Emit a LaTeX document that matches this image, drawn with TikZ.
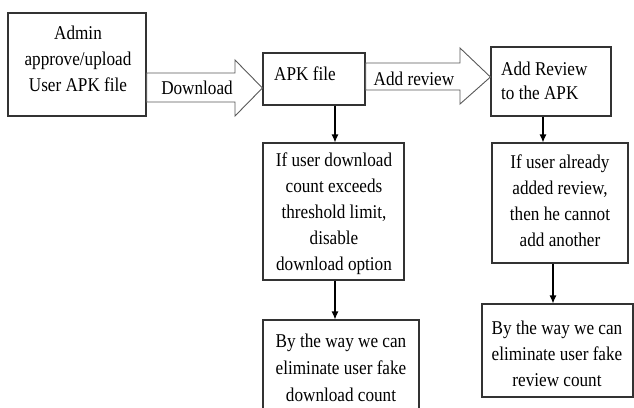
\documentclass[tikz,border=0pt]{standalone}
\usepackage{fontspec}
\setmainfont[FakeStretch=0.88]{Liberation Serif}
\usetikzlibrary{arrows.meta,calc}

\tikzset{
  stepbox/.style={draw=black!80, line width=1.1pt, fill=white, inner sep=0pt},
  label/.style={inner sep=0pt, font=\fontsize{19.5}{26}\selectfont, text=black},
  blockarrow/.style={draw=black!65, line width=0.9pt, fill=white, line join=miter},
  flow/.style={draw=black, line width=1.1pt, -{Latex[length=8pt,width=7pt]}}
}

\begin{document}
\begin{tikzpicture}[x=1pt, y=-1pt]
  \useasboundingbox (0,0) rectangle (634,407);
  \begin{scope}
    \clip (0,0) rectangle (634,407);

    % process boxes
    \node[stepbox, minimum width=138pt, minimum height=103pt] (admin)   at (77,64.5)   {};
    \node[stepbox, minimum width=102pt, minimum height=52pt]  (apk)     at (314,79)    {};
    \node[stepbox, minimum width=120pt, minimum height=69pt]  (addrev)  at (551,81.5)  {};
    \node[stepbox, minimum width=141pt, minimum height=137pt] (limit)   at (333.5,211.5) {};
    \node[stepbox, minimum width=136pt, minimum height=120pt] (already) at (560,203)   {};
    \node[stepbox, minimum width=156pt, minimum height=110pt] (fakedl)  at (341,375)   {};
    \node[stepbox, minimum width=151pt, minimum height=93pt]  (fakerev) at (557.5,350.5) {};

    % box texts
    \node[label, align=center] (tadmin) at (78,59)
      {Admin\\approve/upload\\User APK file};
    \node[label, anchor=west] (tapk) at (274,74) {APK file};
    \node[label, anchor=west, align=left, font=\fontsize{19.5}{24}\selectfont] (taddrev) at (501,81)
      {Add Review\\to the APK};
    \node[label, align=center] (tlimit) at (334,214)
      {If user download\\count exceeds\\threshold limit,\\disable\\download option};
    \node[label, align=center] (talready) at (560,201)
      {If user already\\added review,\\then he cannot\\add another};
    \node[label, align=center, font=\fontsize{19.5}{27}\selectfont] (tfakedl) at (341,368)
      {By the way we can\\eliminate user fake\\download count};
    \node[label, align=center] (tfakerev) at (557,354)
      {By the way we can\\eliminate user fake\\review count};

    % block arrow: Download
    \draw[blockarrow] (admin.east |- 0,73) -- (235,73) -- (235,60)
      -- (apk.west |- 0,88) -- (235,116) -- (235,102) -- (admin.east |- 0,102) -- cycle;
    \node[label] (tdownload) at (197,88) {Download};

    % block arrow: Add review
    \draw[blockarrow] (apk.east |- 0,63) -- (460,63) -- (460,48)
      -- (addrev.west |- 0,77) -- (460,104) -- (460,90) -- (apk.east |- 0,90) -- cycle;
    \node[label] (taddreview) at (414,79) {Add review};

    % vertical flow arrows
    \draw[flow] (apk.south -| 335,0) -- (limit.north -| 335,0);
    \draw[flow] (addrev.south -| 543,0) -- (already.north -| 543,0);
    \draw[flow] (limit.south -| 335,0) -- (fakedl.north -| 335,0);
    \draw[flow] (already.south -| 553,0) -- (fakerev.north -| 553,0);
  \end{scope}
\end{tikzpicture}
\end{document}
